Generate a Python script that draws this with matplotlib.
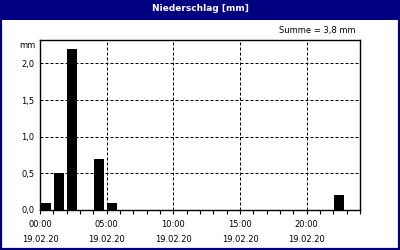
import matplotlib
matplotlib.use('Agg')
import matplotlib.pyplot as plt
from matplotlib.patches import Rectangle

# Niederschlag pro Stunde (mm)
hours = list(range(24))
rain = [0.1, 0.5, 2.2, 0.0, 0.7, 0.1, 0, 0, 0, 0, 0, 0,
        0, 0, 0, 0, 0, 0, 0, 0, 0, 0, 0.2, 0]
tick_hours = [0, 5, 10, 15, 20]
tick_labels = ['00:00\n19.02.20', '05:00\n19.02.20', '10:00\n19.02.20',
               '15:00\n19.02.20', '20:00\n19.02.20']
y_ticks = [0.0, 0.5, 1.0, 1.5, 2.0]
navy = '#000080'

fig = plt.figure(figsize=(4, 2.5), dpi=100)
fig.patch.set_facecolor('white')

# Titelleiste und Rahmen
fig.patches.append(Rectangle((0, 0.92), 1, 0.08, transform=fig.transFigure,
                             facecolor=navy, edgecolor='none', zorder=0))
fig.patches.append(Rectangle((0.0025, 0.004), 0.995, 0.992, transform=fig.transFigure,
                             facecolor='none', edgecolor=navy, linewidth=1.6, zorder=5))
fig.text(0.5, 0.965, 'Niederschlag [mm]', color='white', fontsize=6.5,
         fontweight='bold', ha='center', va='center')

ax = fig.add_axes([0.1, 0.16, 0.8, 0.68])
ax.bar([h + 0.05 for h in hours], rain, width=0.75, align='edge',
       color='black', zorder=3)

ax.set_xlim(0, 24)
ax.set_ylim(0, 2.32)
ax.set_xticks(tick_hours)
ax.set_xticklabels(tick_labels, fontsize=6, linespacing=1.9)
ax.set_xticks(hours + [24], minor=True)
ax.set_yticks(y_ticks)
ax.set_yticklabels([f'{v:.1f}'.replace('.', ',') for v in y_ticks], fontsize=6)
ax.tick_params(axis='x', which='both', direction='out', length=3, width=0.8, pad=4)
ax.tick_params(axis='y', length=0, pad=4)

# gestricheltes Gitter (ca. 3px Strich, 2px Lücke)
ax.grid(True, color='black', linestyle=(0, (3, 2)), linewidth=0.72, zorder=1)
for s in ax.spines.values():
    s.set_linewidth(1)
    s.set_color('black')

fig.text(0.0875, 0.82, 'mm', fontsize=6, ha='right', va='center')
fig.text(0.888, 0.876, 'Summe = 3,8 mm', fontsize=6, ha='right', va='center')

fig.savefig('out.png', dpi=100)
